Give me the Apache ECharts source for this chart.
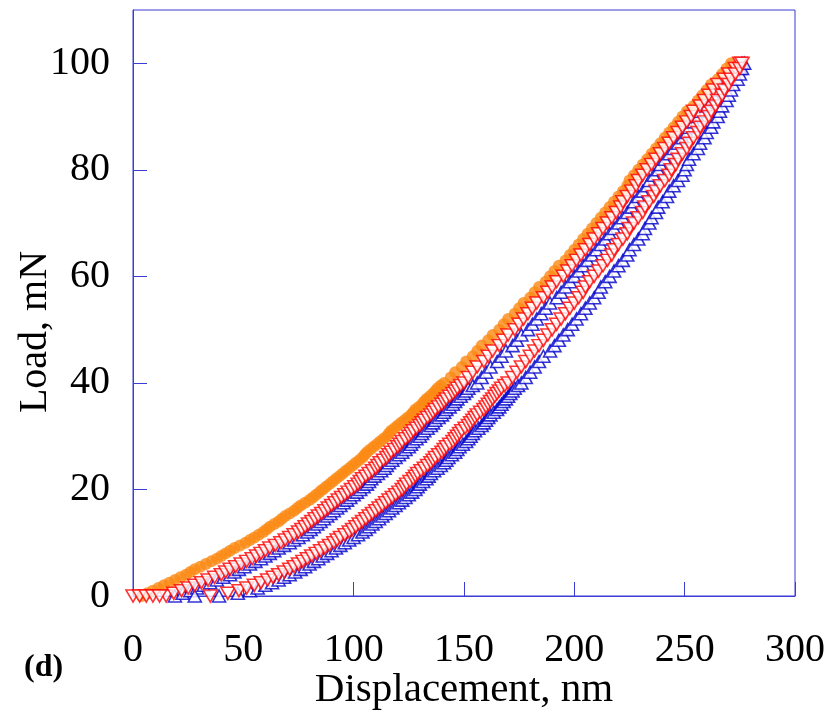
<!DOCTYPE html>
<html>
<head>
<meta charset="utf-8">
<script src="https://cdn.jsdelivr.net/npm/echarts@6/dist/echarts.min.js"></script>
<style>
  html, body { margin: 0; padding: 0; background: #fff; }
  #chart { width: 826px; height: 719px; }
</style>
</head>
<body>
<div id="chart"></div>
<script>
// Load levels (mN) shared by every loading / unloading branch:
// half steps up to 40 mN, whole steps above
const loadSteps = [
  0,0.5,1,1.5,2,2.5,3,3.5,4,4.5,5,5.5,6,6.5,7,7.5,8,8.5,9,9.5,
  10,10.5,11,11.5,12,12.5,13,13.5,14,14.5,15,15.5,16,16.5,17,17.5,18,18.5,19,19.5,
  20,20.5,21,21.5,22,22.5,23,23.5,24,24.5,25,25.5,26,26.5,27,27.5,28,28.5,29,29.5,
  30,30.5,31,31.5,32,32.5,33,33.5,34,34.5,35,35.5,36,36.5,37,37.5,38,38.5,39,39.5,
  40,41,42,43,44,45,46,47,48,49,50,51,52,53,54,55,56,57,58,59,60,
  61,62,63,64,65,66,67,68,69,70,71,72,73,74,75,76,77,78,79,80,
  81,82,83,84,85,86,87,88,89,90,91,92,93,94,95,96,97,98,99,100
];

// Displacement (nm) at each load level
const orangeLoading = [
  4,6.5,9,11.5,14,16.5,19,21.5,24,26,28,30.5,33,35.5,38,40,42,44,46,48.5,
  51,53,55,57,59,60.5,62,64,66,67.5,69,71,73,74.5,76,78,80,81.5,83,84.5,
  86,87.5,89,90.5,92,93.5,95,96.5,98,99.5,101,102.5,104,105,106,107.5,109,110.5,112,113.5,
  115,116,117,118.5,120,121.5,123,124.5,126,127,128,129.5,131,132,133,134.5,136,137,138,139.5,
  141,144,146,149,151,154,156,158,161,163,166,168,170,173,175,177,180,182,184,187,189,
  191,193,196,198,200,202,204,206,208,210,212,214,216,218,220,222,224,225,227,229,
  231,233,235,237,239,241,243,245,247,249,251,254,256,258,260,262,265,267,269,271
];

const redLoading = [
  15,18.5,22,25,28,31,34,37,40,42,44,46.5,49,51.5,54,56,58,60,62,64.5,
  67,69,71,73,75,76.5,78,79.5,81,82.5,84,85.5,87,88.5,90,91.5,93,94.5,96,97.5,
  99,100.5,102,103,104,105.5,107,108.5,110,111,112,113.5,115,116,117,118.5,120,121,122,123.5,
  125,126,127,128.5,130,131,132,133.5,135,136,137,138.5,140,141,142,143.5,145,146,147,148.5,
  150,152,154,156,159,161,163,166,168,170,173,175,177,179,181,183,186,188,190,192,195,
  197,199,201,203,205,207,209,211,213,215,217,219,221,222,224,226,228,229,231,233,
  235,237,239,241,243,245,247,249,251,253,254,257,259,261,263,265,268,270,273,275
];

const blueLoading = [
  19,22.5,26,29,32,35,38,41,44,46,48,50.5,53,55.5,58,60,62,64,66,68.5,
  71,73,75,77,79,80.5,82,83.5,85,86.5,88,89.5,91,92.5,94,95.5,97,98.5,100,101.5,
  103,104.5,106,107,108,109.5,111,112.5,114,115,116,117.5,119,120.5,122,123.5,125,126,127,128.5,
  130,131,132,133.5,135,136,137,138.5,140,141,142,143.5,145,146,147,148.5,150,151,152,154,
  156,158,160,162,165,167,169,172,174,176,179,181,183,185,187,189,192,194,196,198,200,
  202,204,206,208,210,212,214,216,218,220,222,224,226,227,229,231,233,234,236,238,
  239,241,243,245,247,249,251,252,254,256,257,260,262,263,265,267,270,272,275,276
];

const redUnloading = [
  35,43,48,51.5,55,58,61,63.5,66,68.5,71,73,75,77,79,81,83,85,87,89,
  91,92.5,94,96,98,99.5,101,102.5,104,105.5,107,108.5,110,111.5,113,114.5,116,117.5,119,120.5,
  122,123,124,125.5,127,128,129,130.5,132,133.5,135,136,137,138.5,140,141,142,143.5,145,146,
  147,148,149,150.5,152,153,154,155,156,157.5,159,160,161,162,163,164,165,166,167,168.5,
  170,172,174,176,178,180,182,184,186,188,190,192,194,196,198,200,202,204,205,207,209,
  211,213,215,217,218,220,222,224,225,227,229,231,232,234,236,237,239,241,243,244,
  246,247,249,251,252,254,256,257,259,261,262,264,265,267,268,270,271,273,275,276
];

const blueUnloading = [
  39,47.5,53,56.5,60,63,66,68.5,71,73.5,76,78,80,82,84,86,88,90,92,94,
  96,98,100,102,104,105.5,107,108.5,110,111.5,113,114.5,116,117.5,119,120.5,122,123.5,125,126.5,
  128,129,130,131.5,133,134,135,136.5,138,139.5,141,142,143,144.5,146,147,148,149.5,151,152,
  153,154,155,156.5,158,159,160,161,162,163.5,165,166,167,168,169,170,171,172,173,174.5,
  176,178,180,182,184,186,189,191,193,195,197,199,201,203,205,207,209,211,212,214,216,
  218,220,222,224,225,227,229,231,232,234,235,237,238,240,242,243,245,247,249,250,
  251,252,254,256,257,259,260,262,263,265,266,267,269,270,271,272,274,275,276,277
];

// Zero-load readings recorded before contact
const redZeroLoad = [0, 3, 6, 9, 12];
const blueZeroLoad = [28];

// Axis ticks
const xTicks = [0, 50, 100, 150, 200, 250, 300];
const yTicks = [0, 20, 40, 60, 80, 100];

const AXIS_BLUE = '#3b3bd6';
const ORANGE = '#fb8a14';
const RED = '#ff0000';
const BLUE = '#0000cc';
const SERIF = '"Liberation Serif", "Times New Roman", serif';

const pairs = (hs, ps) => hs.map((h, i) => [h, ps[i]]);
const zeroPairs = hs => hs.map(h => [h, 0]);

const downTri = {
  type: 'scatter', symbol: 'triangle', symbolRotate: 180, symbolSize: [14, 12],
  itemStyle: { color: '#ffffff', borderColor: RED, borderWidth: 1.6 }
};
const upTri = {
  type: 'scatter', symbol: 'triangle', symbolSize: [13, 12],
  itemStyle: { color: '#ffffff', borderColor: BLUE, borderWidth: 1.6 }
};

const chart = echarts.init(document.getElementById('chart'), null, { renderer: 'canvas' });

chart.setOption({
  animation: false,
  backgroundColor: '#ffffff',
  grid: {
    left: 133, right: 31, top: 10, bottom: 123,
    outerBoundsMode: 'none', containLabel: false,
    show: true, borderColor: AXIS_BLUE, borderWidth: 1
  },
  xAxis: {
    type: 'value', min: 0, max: 300, interval: 50,
    axisLine: { show: true, lineStyle: { color: AXIS_BLUE, width: 1 } },
    axisTick: { show: true, inside: true, length: 14, lineStyle: { color: AXIS_BLUE, width: 1 } },
    splitLine: { show: false },
    axisLabel: {
      margin: 34, color: '#000', fontSize: 40, fontFamily: SERIF,
      customValues: xTicks
    },
    name: 'Displacement, nm', nameLocation: 'middle', nameGap: 74, nameMoveOverlap: false,
    nameTextStyle: { color: '#000', fontSize: 41, fontFamily: SERIF }
  },
  yAxis: {
    type: 'value', min: 0, max: 110, interval: 20,
    axisLine: { show: true, lineStyle: { color: AXIS_BLUE, width: 1 } },
    axisTick: { show: true, inside: true, length: 14, lineStyle: { color: AXIS_BLUE, width: 1 }, customValues: yTicks },
    splitLine: { show: false },
    axisLabel: {
      margin: 23, color: '#000', fontSize: 40, fontFamily: SERIF,
      customValues: yTicks
    },
    name: 'Load, mN', nameLocation: 'middle', nameGap: 78, nameMoveOverlap: false,
    nameTextStyle: { color: '#000', fontSize: 40, fontFamily: SERIF, padding: [0, 58, 0, 0] }
  },
  graphic: [{
    type: 'text', left: 24, top: 652,
    style: { text: '(d)', fill: '#000', font: 'bold 32px ' + SERIF }
  }],
  series: [
    {
      name: 'orange-loading', type: 'scatter', symbol: 'circle', symbolSize: 12,
      itemStyle: { color: ORANGE }, data: pairs(orangeLoading, loadSteps)
    },
    Object.assign({ name: 'blue-loading', data: pairs(blueLoading, loadSteps) }, upTri),
    Object.assign({ name: 'blue-unloading', data: pairs(blueUnloading, loadSteps) }, upTri),
    Object.assign({ name: 'blue-zero', data: zeroPairs(blueZeroLoad) }, upTri),
    Object.assign({ name: 'red-loading', data: pairs(redLoading, loadSteps) }, downTri),
    Object.assign({ name: 'red-unloading', data: pairs(redUnloading, loadSteps) }, downTri),
    Object.assign({ name: 'red-zero', data: zeroPairs(redZeroLoad) }, downTri)
  ]
});
</script>
</body>
</html>
